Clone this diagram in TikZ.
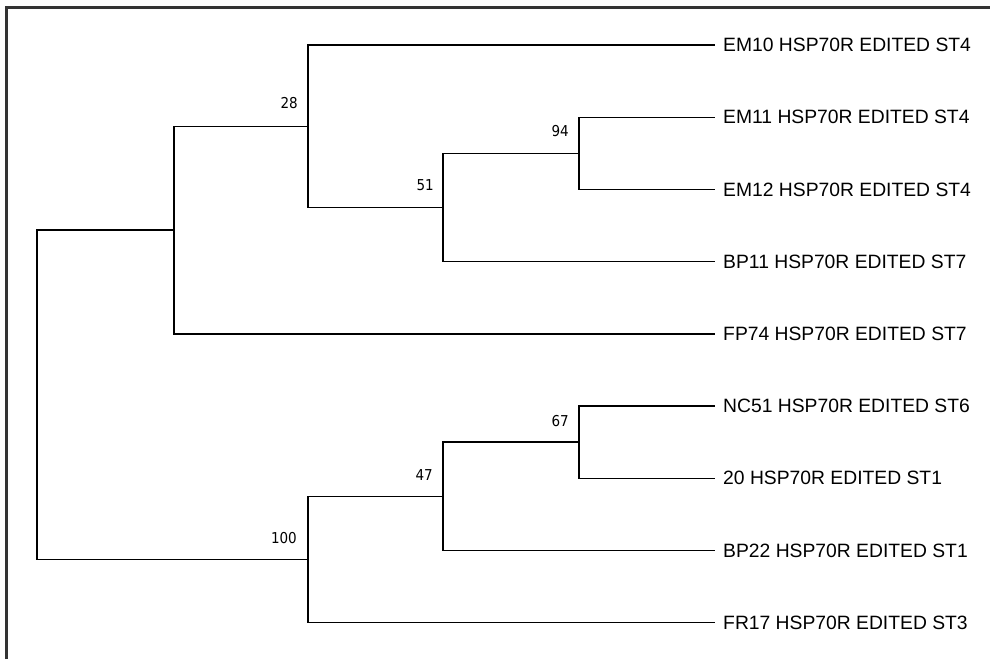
\documentclass[tikz,border=0pt]{standalone}
\usepackage{fontspec}
\setmainfont{Liberation Sans}
\newfontfamily\suppfont{DejaVu Sans Condensed}
\begin{document}
\begin{tikzpicture}[x=1pt,y=-1pt,
  branch/.style={draw=black,line width=1.4pt,line cap=rect},
  leaflabel/.style={anchor=west,inner sep=0pt,font=\fontsize{19.3}{19.3}\selectfont},
  support/.style={anchor=base east,inner sep=0pt,font=\suppfont\fontsize{15}{15}\selectfont},
  frameline/.style={draw={rgb,255:red,51;green,51;blue,51},line width=3pt}]
\useasboundingbox (0,0) rectangle (990,659);
% frame (left and top edges)
\draw[frameline] (6,659) -- (6,7) -- (990,7);

% leaf tips
\coordinate (tEMten)    at (714,45);
\coordinate (tEMeleven) at (714,117.2);
\coordinate (tEMtwelve) at (714,189.4);
\coordinate (tBPeleven) at (714,261.6);
\coordinate (tFP)       at (714,333.8);
\coordinate (tNC)       at (714,406);
\coordinate (tTwenty)   at (714,478.2);
\coordinate (tBPtt)     at (714,550.4);
\coordinate (tFR)       at (714,622.6);

% internal nodes
\coordinate (n94)  at (579,153.3);
\coordinate (n51)  at (443,207.45);
\coordinate (n28)  at (308,126.2);
\coordinate (nA)   at (174,230);
\coordinate (n67)  at (579,442.1);
\coordinate (n47)  at (443,496.25);
\coordinate (n100) at (308,559.4);
\coordinate (root) at (37,394.7);

% branches
\draw[branch] (root) |- (nA);
\draw[branch] (root) |- (n100);
\draw[branch] (nA) |- (n28);
\draw[branch] (nA) |- (tFP);
\draw[branch] (n28) |- (tEMten);
\draw[branch] (n28) |- (n51);
\draw[branch] (n51) |- (n94);
\draw[branch] (n51) |- (tBPeleven);
\draw[branch] (n94) |- (tEMeleven);
\draw[branch] (n94) |- (tEMtwelve);
\draw[branch] (n100) |- (n47);
\draw[branch] (n100) |- (tFR);
\draw[branch] (n47) |- (n67);
\draw[branch] (n47) |- (tBPtt);
\draw[branch] (n67) |- (tNC);
\draw[branch] (n67) |- (tTwenty);

% leaf labels
\node[leaflabel] (lEMten)    at ([xshift=9pt]tEMten)    {EM10 HSP70R EDITED ST4};
\node[leaflabel] (lEMeleven) at ([xshift=9pt]tEMeleven) {EM11 HSP70R EDITED ST4};
\node[leaflabel] (lEMtwelve) at ([xshift=9pt]tEMtwelve) {EM12 HSP70R EDITED ST4};
\node[leaflabel] (lBPeleven) at ([xshift=9pt]tBPeleven) {BP11 HSP70R EDITED ST7};
\node[leaflabel] (lFP)       at ([xshift=9pt]tFP)       {FP74 HSP70R EDITED ST7};
\node[leaflabel] (lNC)       at ([xshift=9pt]tNC)       {NC51 HSP70R EDITED ST6};
\node[leaflabel] (lTwenty)   at ([xshift=9pt]tTwenty)   {20 HSP70R EDITED ST1};
\node[leaflabel] (lBPtt)     at ([xshift=9pt]tBPtt)     {BP22 HSP70R EDITED ST1};
\node[leaflabel] (lFR)       at ([xshift=9pt]tFR)       {FR17 HSP70R EDITED ST3};

% bootstrap support values
\node[support] (s28)  at ([shift={(-10,-17.5)}]n28)  {28};
\node[support] (s51)  at ([shift={(-9,-16.5)}]n51)   {51};
\node[support] (s94)  at ([shift={(-10,-17)}]n94)    {94};
\node[support] (s67)  at ([shift={(-10,-16)}]n67)    {67};
\node[support] (s47)  at ([shift={(-10,-16)}]n47)    {47};
\node[support] (s100) at ([shift={(-11,-16)}]n100)   {100};
\end{tikzpicture}
\end{document}
